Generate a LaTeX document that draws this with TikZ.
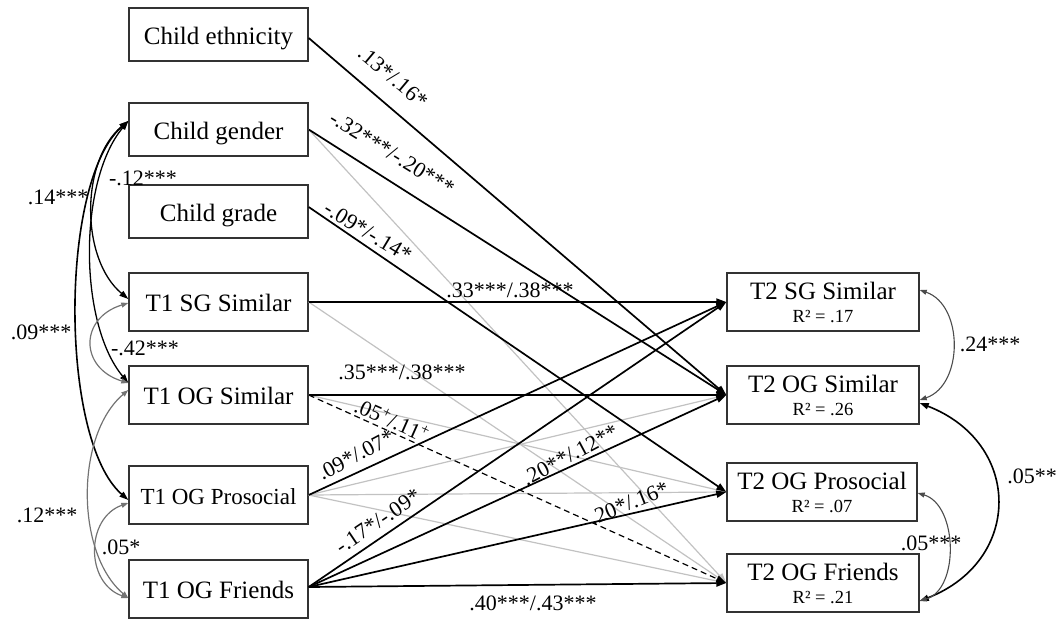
\documentclass[tikz,border=0pt]{standalone}
\usepackage{fontspec}
\setmainfont{Liberation Serif}
\usetikzlibrary{arrows.meta}
\definecolor{boxline}{gray}{0.2}
\definecolor{nsline}{gray}{0.76}
\definecolor{covgray}{gray}{0.45}
\definecolor{covdark}{gray}{0.3}
\newcommand{\rsq}[1]{{\fontsize{18.5}{20}\selectfont R² = #1}}
\begin{document}
\begin{tikzpicture}[x=1pt,y=-1pt,
  lbox/.style={draw=boxline, line width=1.4pt, inner sep=0pt, minimum width=179pt,
    minimum height=58pt, font=\fontsize{25}{25}\selectfont, text height=19pt, text depth=0pt},
  rbox/.style={draw=boxline, line width=1.4pt, inner sep=0pt, minimum width=192pt,
    minimum height=58pt, align=center, font=\fontsize{25}{23}\selectfont},
  sig/.style={black, line width=1.7pt, -{Triangle[length=10pt,width=7pt]}},
  ns/.style={nsline, line width=1.2pt, -{Triangle[length=10pt,width=7pt]}},
  nsdash/.style={black, line width=1.2pt, dash pattern=on 6pt off 4pt, -{Triangle[length=10pt,width=7pt]}},
  covblack/.style={black, line width=1.6pt, {Triangle[length=9pt,width=6pt]}-{Triangle[length=9pt,width=6pt]}},
  covthin/.style={covdark, line width=1.1pt, {Triangle[length=7pt,width=5pt]}-{Triangle[length=7pt,width=5pt]}},
  covgr/.style={covgray, line width=1.2pt, {Triangle[length=7pt,width=5pt]}-{Triangle[length=7pt,width=5pt]}},
  coef/.style={font=\fontsize{22}{24}\selectfont, inner sep=0pt},
]
\useasboundingbox (0,0) rectangle (1060,621);

% predictors (T1 and demographics)
\node[lbox, minimum height=53pt] (eth) at (218.5,34.5) {Child ethnicity};
\node[lbox, minimum height=53pt] (gen) at (218.5,129.5) {Child gender};
\node[lbox, minimum height=53pt] (grd) at (218.5,211.5) {Child grade};
\node[lbox] (sg1) at (218.5,302) {T1 SG Similar};
\node[lbox] (og1) at (218.5,395) {T1 OG Similar};
\node[lbox, font=\fontsize{23}{23}\selectfont] (pr1) at (218.5,495) {T1 OG Prosocial};
\node[lbox] (fr1) at (218.5,589) {T1 OG Friends};

% outcomes (T2)
\node[rbox] (sg2) at (823,302) {T2 SG Similar\\\rsq{.17}};
\node[rbox] (og2) at (823,395) {T2 OG Similar\\\rsq{.26}};
\node[rbox, minimum width=190pt] (pr2) at (822,492) {T2 OG Prosocial\\\rsq{.07}};
\node[rbox] (fr2) at (823,583) {T2 OG Friends\\\rsq{.21}};

% non-significant paths
\draw[ns] (gen.east) -- (fr2.west);
\draw[ns] (sg1.east) -- (fr2.west);
\draw[ns] (og1.east) -- (pr2.west);
\draw[ns] (pr1.east) -- (og2.west);
\draw[ns] (pr1.east) -- (pr2.west);
\draw[ns] (pr1.east) -- (fr2.west);

% marginal path
\draw[nsdash] (og1.east) -- (fr2.west);

% significant paths
\draw[sig] ([yshift=-3.5pt]eth.east) -- (og2.west);
\draw[sig] (gen.east) -- (og2.west);
\draw[sig] ([yshift=4.5pt]grd.east) -- (pr2.west);
\draw[sig] (sg1.east) -- (sg2.west);
\draw[sig] (og1.east) -- (og2.west);
\draw[sig] (pr1.east) -- (sg2.west);
\draw[sig] ([yshift=2pt]fr1.east) -- (sg2.west);
\draw[sig] ([yshift=2pt]fr1.east) -- (og2.west);
\draw[sig] ([yshift=2pt]fr1.east) -- (pr2.west);
\draw[sig] ([yshift=2pt]fr1.east) -- (fr2.west);

% covariances among predictors
\draw[covblack] ([yshift=8.5pt]gen.west) .. controls +(-69,60) and +(-69,-60) .. ([yshift=-5pt]pr1.west);
\draw[covblack, line width=1.3pt] ([yshift=8.5pt]gen.west) .. controls +(-50,60) and +(-50,-60) .. ([yshift=12pt]og1.west);
\draw[covblack, line width=1.3pt] ([yshift=8.5pt]gen.west) .. controls +(-48,40) and +(-48,-40) .. ([yshift=3pt]sg1.west);
\draw[covgr] ([yshift=-1pt]sg1.west) .. controls +(-49,15) and +(-49,-15) .. ([yshift=12pt]og1.west);
\draw[covgr] ([yshift=5pt]og1.west) .. controls +(-53,45) and +(-53,-45) .. ([yshift=-9pt]fr1.west);
\draw[covgr] ([yshift=-8pt]pr1.west) .. controls +(-43,15) and +(-43,-15) .. ([yshift=-9pt]fr1.west);

% residual covariances among outcomes
\draw[covthin] ([yshift=12pt]sg2.east) .. controls +(44,15) and +(44,-15) .. ([yshift=-5pt]og2.east);
\draw[covblack] ([yshift=-8pt]og2.east) .. controls +(103,40) and +(103,-40) .. ([yshift=-18pt]fr2.east);
\draw[covthin] ([yshift=-1pt]pr2.east) .. controls +(40,12) and +(40,-12) .. ([yshift=-18pt]fr2.east);

% path coefficients
\node[coef, rotate=-40] (c1) at (393,77) {.13*/.16*};
\node[coef, rotate=-31.5] (c2) at (392,153) {-.32***/-.20***};
\node[coef, rotate=-31] (c3) at (368,232) {-.09*/-.14*};
\node[coef] (c4) at (510,290) {.33***/.38***};
\node[coef] (c5) at (402,372) {.35***/.38***};
\node[coef, rotate=-24] (c6) at (392,420) {.05\textsuperscript{+}/.11\textsuperscript{+}};
\node[coef, rotate=28] (c7) at (356,455) {.09*/.07*};
\node[coef, rotate=34] (c8) at (378,521) {-.17*/-.09*};
\node[coef, rotate=28] (c9) at (570,455) {.20**/.12**};
\node[coef, rotate=22] (c10) at (629,503) {.20*/.16*};
\node[coef] (c11) at (533,603) {.40***/.43***};

% covariance coefficients
\node[coef] (k1) at (58,197) {.14***};
\node[coef] (k2) at (143,178) {-.12***};
\node[coef] (k3) at (41,332) {.09***};
\node[coef] (k4) at (145,348) {-.42***};
\node[coef] (k5) at (47,515) {.12***};
\node[coef] (k6) at (121,547) {.05*};
\node[coef] (k7) at (990,344) {.24***};
\node[coef] (k8) at (1032,476) {.05**};
\node[coef] (k9) at (931,543) {.05***};
\end{tikzpicture}
\end{document}
